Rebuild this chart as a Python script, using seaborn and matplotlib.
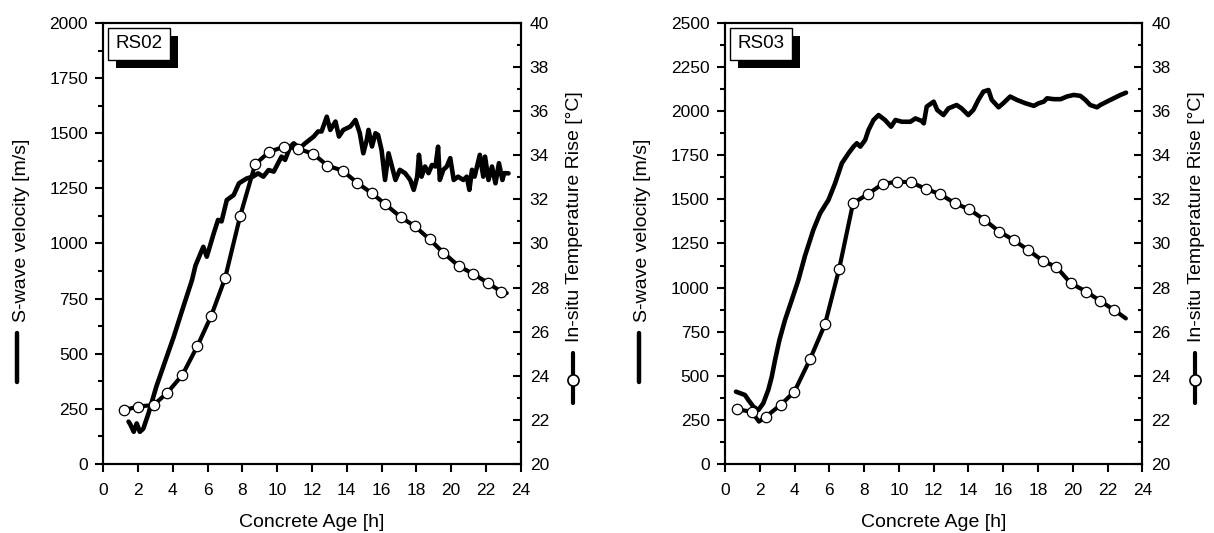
import numpy as np
import pandas as pd
import matplotlib
matplotlib.use("Agg")
import matplotlib.pyplot as plt
import matplotlib.patheffects as pe
from matplotlib.ticker import MultipleLocator
import seaborn as sns

# === Data ===
# RS02 - S-wave velocity [m/s]
rs02_vel_hours = [1.45, 1.55, 1.75, 1.92, 2.1, 2.3, 2.6, 3.05, 3.65, 4.05,
                  4.6, 5.1, 5.3, 5.75, 5.95, 6.35, 6.6, 6.8, 7.1, 7.5,
                  7.8, 8.25, 8.6, 8.9, 9.2, 9.5, 9.8, 10.05, 10.25, 10.45,
                  10.75, 10.95, 11.3, 11.6, 12.1, 12.35, 12.55, 12.85, 13.05, 13.35,
                  13.55, 13.8, 14.2, 14.5, 14.75, 14.95, 15.15, 15.25, 15.45, 15.65,
                  15.8, 16.0, 16.2, 16.4, 16.6, 16.8, 17.05, 17.35, 17.65, 17.85,
                  18.05, 18.15, 18.3, 18.5, 18.7, 18.9, 19.1, 19.25, 19.35, 19.55,
                  19.75, 19.95, 20.15, 20.4, 20.7, 20.9, 21.05, 21.2, 21.35, 21.65,
                  21.85, 21.95, 22.15, 22.35, 22.55, 22.75, 22.95, 23.05, 23.3]
rs02_velocity = [192, 180, 146, 184, 146, 160, 230, 351, 487, 577,
                 713, 834, 900, 985, 940, 1046, 1107, 1100, 1197, 1220,
                 1273, 1295, 1303, 1318, 1303, 1333, 1326, 1364, 1394, 1379,
                 1439, 1454, 1432, 1454, 1485, 1508, 1508, 1575, 1515, 1553,
                 1485, 1515, 1530, 1560, 1500, 1409, 1470, 1515, 1440, 1500,
                 1492, 1424, 1288, 1409, 1349, 1288, 1334, 1319, 1288, 1243,
                 1303, 1402, 1303, 1349, 1319, 1356, 1349, 1439, 1288, 1334,
                 1349, 1387, 1288, 1303, 1288, 1303, 1243, 1334, 1303, 1402,
                 1303, 1394, 1288, 1349, 1273, 1364, 1288, 1319, 1318]

# RS02 - in-situ temperature rise [°C] (last point is the line end, no marker)
rs02_temp_hours = [1.2, 2.0, 2.9, 3.68, 4.55, 5.41, 6.2, 7.0, 7.87, 8.73,
                   9.55, 10.41, 11.2, 12.08, 12.89, 13.77, 14.58, 15.44, 16.2, 17.11,
                   17.9, 18.76, 19.56, 20.43, 21.25, 22.1, 22.88, 23.2]
rs02_temperature = [22.45, 22.6, 22.68, 23.23, 24.04, 25.35, 26.71, 28.42, 31.25, 33.59,
                    34.16, 34.39, 34.3, 34.06, 33.53, 33.3, 32.76, 32.28, 31.79, 31.19,
                    30.79, 30.19, 29.58, 28.98, 28.63, 28.22, 27.81, 27.75]
rs02_marker_idx = list(range(27))

# RS03 - S-wave velocity [m/s]
rs03_vel_hours = [0.63, 1.15, 1.34, 1.63, 1.92, 2.2, 2.49, 2.69, 2.88, 3.13,
                  3.45, 3.84, 4.22, 4.6, 5.08, 5.47, 5.95, 6.33, 6.72, 7.1,
                  7.39, 7.58, 7.78, 8.06, 8.25, 8.54, 8.83, 9.2, 9.55, 9.8,
                  10.18, 10.66, 10.95, 11.3, 11.43, 11.6, 12.0, 12.2, 12.56, 12.85,
                  13.32, 13.6, 13.99, 14.28, 14.57, 14.86, 15.15, 15.34, 15.73, 16.0,
                  16.4, 16.78, 17.27, 17.76, 18.04, 18.33, 18.52, 18.91, 19.3, 19.66,
                  20.05, 20.43, 20.72, 21.0, 21.39, 21.58, 21.96, 22.35, 22.74, 23.06]
rs03_velocity = [410, 391, 363, 325, 306, 344, 420, 495, 590, 703,
                 816, 930, 1043, 1180, 1327, 1421, 1497, 1591, 1705, 1761,
                 1799, 1818, 1799, 1837, 1893, 1950, 1978, 1950, 1912, 1950,
                 1940, 1940, 1959, 1945, 1931, 2026, 2054, 2007, 1978, 2016,
                 2035, 2016, 1978, 2007, 2064, 2111, 2120, 2064, 2022, 2045,
                 2083, 2064, 2045, 2030, 2045, 2054, 2073, 2068, 2068, 2083,
                 2092, 2087, 2064, 2035, 2022, 2035, 2054, 2073, 2092, 2105]

# RS03 - in-situ temperature rise [°C]
rs03_temp_hours = [0.67, 1.53, 1.95, 2.36, 3.2, 3.99, 4.89, 5.75, 6.56, 7.36,
                   8.22, 9.06, 9.89, 10.69, 11.53, 12.36, 13.23, 14.04, 14.92, 15.77,
                   16.59, 17.42, 18.26, 19.06, 19.89, 20.77, 21.58, 22.38, 23.05]
rs03_temperature = [22.48, 22.37, 21.92, 22.15, 22.68, 23.28, 24.75, 26.34, 28.83, 31.82,
                    32.24, 32.7, 32.8, 32.78, 32.48, 32.24, 31.82, 31.55, 31.07, 30.54,
                    30.16, 29.71, 29.22, 28.93, 28.19, 27.82, 27.39, 26.98, 26.6]
rs03_marker_idx = [0, 1] + list(range(3, 28))

panel_names = ["RS02", "RS03"]
vel_limits = [2000, 2500]

# === Style ===
sns.set_theme(style="ticks")
plt.rcParams["font.family"] = ["Liberation Sans", "DejaVu Sans"]
plt.rcParams.update({
    "axes.linewidth": 1.5,
    "axes.edgecolor": "black",
    "axes.labelcolor": "black",
    "text.color": "black",
    "xtick.color": "black",
    "ytick.color": "black",
})

fig = plt.figure(figsize=(12.14, 5.33), dpi=100)
axes_pos = [[0.0851, 0.1295, 0.3438, 0.8274], [0.5972, 0.1295, 0.3438, 0.8274]]

panels = [
    (rs02_vel_hours, rs02_velocity, rs02_temp_hours, rs02_temperature, rs02_marker_idx),
    (rs03_vel_hours, rs03_velocity, rs03_temp_hours, rs03_temperature, rs03_marker_idx),
]

for i, (vh, vv, th, tv, midx) in enumerate(panels):
    ax = fig.add_axes(axes_pos[i])
    ax2 = ax.twinx()

    vel_df = pd.DataFrame({"hours": vh, "velocity": vv})
    temp_df = pd.DataFrame({"hours": th, "temperature": tv})

    sns.lineplot(data=vel_df, x="hours", y="velocity", ax=ax, color="black",
                 linewidth=3.3, estimator=None, sort=False)
    sns.lineplot(data=temp_df, x="hours", y="temperature", ax=ax2, color="black",
                 linewidth=3.0, estimator=None, sort=False,
                 marker="o", markevery=midx, markersize=7.5,
                 markerfacecolor="white", markeredgecolor="black", markeredgewidth=0.9)

    # --- axes limits / ticks ---
    ax.set_xlim(0, 24)
    ax.set_ylim(0, vel_limits[i])
    ax2.set_ylim(20, 40)
    ax.xaxis.set_major_locator(MultipleLocator(2))
    ax.yaxis.set_major_locator(MultipleLocator(250))
    ax.yaxis.set_minor_locator(MultipleLocator(125))
    ax2.yaxis.set_major_locator(MultipleLocator(2))
    ax2.yaxis.set_minor_locator(MultipleLocator(1))

    ax.tick_params(axis="both", which="major", direction="out", length=6, width=1.5,
                   labelsize=12.5, top=False, right=False)
    ax.tick_params(axis="x", which="major", pad=8)
    ax.tick_params(axis="y", which="major", pad=5)
    ax.tick_params(axis="y", which="minor", direction="out", length=3.5, width=1.5)
    ax2.tick_params(axis="y", which="major", direction="in", length=5.5, width=1.5,
                    labelsize=12.5, pad=6.5)
    ax2.tick_params(axis="y", which="minor", direction="in", length=3, width=1.5)

    ax.set_xlabel("Concrete Age [h]", fontsize=14, labelpad=11)
    ax.set_ylabel("")
    ax2.set_ylabel("")

    # --- y labels with legend glyphs ---
    ax.text(-0.197, 0.53, "S-wave velocity [m/s]", transform=ax.transAxes,
            rotation=90, ha="center", va="center", fontsize=14)
    ax.plot([-0.207, -0.207], [0.186, 0.297], transform=ax.transAxes,
            clip_on=False, color="black", linewidth=3.2, solid_capstyle="round")
    ax2.text(1.13, 0.56, "In-situ Temperature Rise [°C]", transform=ax2.transAxes,
             rotation=90, ha="center", va="center", fontsize=14)
    ax2.plot([1.125, 1.125, 1.125], [0.138, 0.19, 0.252], transform=ax2.transAxes,
             clip_on=False, color="black", linewidth=3.0, solid_capstyle="round",
             marker="o", markevery=[1], markersize=8, markerfacecolor="white",
             markeredgecolor="black", markeredgewidth=1.2)

    # --- panel tag with drop shadow ---
    tag = ax.text(0.029, 0.972, panel_names[i], transform=ax.transAxes,
                  ha="left", va="top", fontsize=13.5, zorder=10,
                  bbox=dict(boxstyle="square,pad=0.4", facecolor="white",
                            edgecolor="black", linewidth=1.0))
    tag.get_bbox_patch().set_path_effects(
        [pe.withSimplePatchShadow(offset=(6, -6), shadow_rgbFace="black", alpha=1.0)])

fig.savefig("out.png", dpi=100)
